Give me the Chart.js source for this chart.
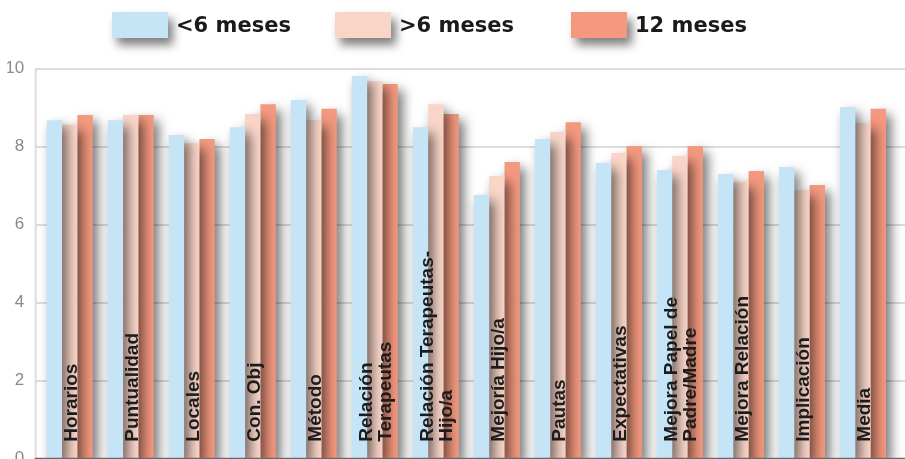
<!DOCTYPE html>
<html>
<head>
<meta charset="utf-8">
<script src="https://cdn.jsdelivr.net/npm/chart.js@4/dist/chart.umd.min.js"></script>
<style>
html,body{margin:0;padding:0;background:#ffffff;overflow:hidden;}
#wrap{position:relative;width:905px;height:459px;}
</style>
</head>
<body>
<div id="wrap"><canvas id="c"></canvas></div>
<script>
// ---- data ----
const categories = [
  'Horarios', 'Puntualidad', 'Locales', 'Con. Obj', 'Método',
  ['Relación', 'Terapeutas'], ['Relación Terapeutas-', 'Hijo/a'],
  'Mejoría Hijo/a', 'Pautas', 'Expectativas',
  ['Mejora Papel de', 'Padre/Madre'], 'Mejora Relación', 'Implicación', 'Media'
];
const seriesNames = ['<6 meses', '>6 meses', '12 meses'];
const menos6  = [8.68, 8.68, 8.30, 8.50, 9.20, 9.81, 8.50, 6.76, 8.20, 7.58, 7.40, 7.30, 7.48, 9.02];
const mas6    = [8.56, 8.81, 8.09, 8.84, 8.68, 9.68, 9.09, 7.25, 8.38, 7.84, 7.76, 7.10, 6.89, 8.61];
const meses12 = [8.81, 8.81, 8.20, 9.09, 8.97, 9.61, 8.84, 7.61, 8.63, 8.02, 8.02, 7.38, 7.02, 8.97];
const yMin = 0, yMax = 10, yStep = 2;

// ---- styles ----
const colors = ['#c5e5f6', '#f9d5c8', '#f4997f'];

const barShadow = {
  id: 'barShadow',
  beforeDatasetDraw(chart) {
    const ctx = chart.ctx;
    ctx.save();
    ctx.shadowColor = 'rgba(0,0,0,0.55)';
    ctx.shadowBlur = 12;
    ctx.shadowOffsetX = 5;
    ctx.shadowOffsetY = 6;
  },
  afterDatasetDraw(chart) {
    chart.ctx.restore();
  }
};

const decor = {
  id: 'decor',
  beforeDatasetsDraw(chart) {
    const {ctx, chartArea, scales: {y}} = chart;
    const x0 = chartArea.left - 3.5;
    ctx.save();
    ctx.strokeStyle = '#dcdcdc';
    ctx.lineWidth = 2;
    y.ticks.forEach(t => {
      if (t.value === yMin) return;
      const py = Math.round(y.getPixelForValue(t.value));
      ctx.beginPath(); ctx.moveTo(x0, py); ctx.lineTo(chart.width, py); ctx.stroke();
    });
    ctx.beginPath();
    ctx.moveTo(x0, Math.round(y.getPixelForValue(yMax)) - 1);
    ctx.lineTo(x0, y.getPixelForValue(yMin));
    ctx.stroke();
    ctx.restore();
  },
  afterDatasetsDraw(chart) {
    const {ctx, chartArea, scales: {x, y}} = chart;
    const bottom = y.getPixelForValue(yMin);
    ctx.save();
    ctx.strokeStyle = '#6a6a6a';
    ctx.lineWidth = 2;
    ctx.beginPath(); ctx.moveTo(chartArea.left - 4.5, bottom); ctx.lineTo(chart.width, bottom); ctx.stroke();

    ctx.font = 'bold 19px "Liberation Sans"';
    ctx.fillStyle = '#1c1c1c';
    ctx.textAlign = 'left';
    ctx.textBaseline = 'alphabetic';
    const base = bottom - 17;
    categories.forEach((lab, i) => {
      const lines = Array.isArray(lab) ? lab : [lab];
      const cx = x.getPixelForValue(i);
      lines.forEach((ln, j) => {
        const off = 6.8 + (j - (lines.length - 1) / 2) * 19;
        ctx.save();
        ctx.translate(cx + off, base);
        ctx.rotate(-Math.PI / 2);
        ctx.fillText(ln, 0, 0);
        ctx.restore();
      });
    });
    ctx.restore();
  },
  afterDraw(chart) {
    const ctx = chart.ctx;
    const boxX = [112, 335, 571];
    chart.data.datasets.forEach((ds, i) => {
      ctx.save();
      ctx.shadowColor = 'rgba(0,0,0,0.5)';
      ctx.shadowBlur = 10;
      ctx.shadowOffsetX = 5;
      ctx.shadowOffsetY = 7;
      ctx.fillStyle = ds.backgroundColor;
      ctx.fillRect(boxX[i], 12, 56, 26);
      ctx.restore();
      ctx.save();
      ctx.font = 'bold 21px "DejaVu Sans"';
      ctx.fillStyle = '#1a1a1a';
      ctx.textAlign = 'left';
      ctx.textBaseline = 'alphabetic';
      ctx.fillText(ds.label, boxX[i] + 64, 32);
      ctx.restore();
    });
  }
};

const seriesValues = [menos6, mas6, meses12];

new Chart(document.getElementById('c'), {
  type: 'bar',
  data: {
    labels: categories,
    datasets: seriesNames.map((name, i) => ({
      label: name,
      data: seriesValues[i],
      backgroundColor: colors[i],
      borderWidth: 0,
      barPercentage: 1,
      categoryPercentage: 0.754,
      clip: false
    }))
  },
  options: {
    responsive: true,
    maintainAspectRatio: false,
    animation: false,
    events: [],
    layout: { padding: { left: 7.4, right: 11.5, top: 68.7, bottom: 0.3 } },
    plugins: { legend: { display: false }, tooltip: { enabled: false } },
    scales: {
      x: { display: false },
      y: {
        min: yMin, max: yMax,
        ticks: { stepSize: yStep, padding: 7, color: '#8a8a8a', font: { family: 'Liberation Sans', size: 17 } },
        grid: { display: false },
        border: { display: false },
        afterFit(scale) {
          scale.width = 31.8;
          scale.paddingTop = 0;
          scale.paddingBottom = 0;
        }
      }
    }
  },
  plugins: [barShadow, decor]
});
</script>
</body>
</html>
